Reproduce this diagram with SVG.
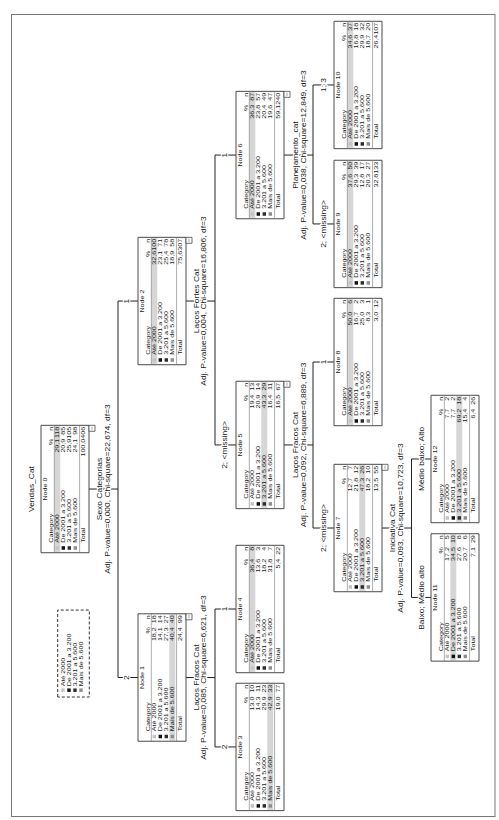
<svg xmlns="http://www.w3.org/2000/svg" width="499" height="820" viewBox="0 0 499 820">
<style>
text{font-family:"Liberation Sans",Arial,sans-serif;fill:#1a1a1a}
.t{font-size:5.5px}
.m{text-anchor:middle}
.e{text-anchor:end}
.box{fill:none;stroke:#4a4a4a;stroke-width:1;vector-effect:non-scaling-stroke}
.sep{stroke:#777;stroke-width:0.6;vector-effect:non-scaling-stroke}
.hl{fill:#d6d6d6}
.k0{fill:#c4c4c4}.k1{fill:#111}.k2{fill:#2e2e2e}.k3{fill:#8e8e8e}
.cn{fill:none;stroke:#222;stroke-width:1;vector-effect:non-scaling-stroke}
.lb{font-size:6.5px;text-anchor:middle;paint-order:stroke;stroke:#fff;stroke-width:2.2px;stroke-linejoin:round}
.cb{fill:#fff;stroke:#4a4a4a;stroke-width:0.8;vector-effect:non-scaling-stroke}
.lg{fill:none;stroke:#333;stroke-width:1;stroke-dasharray:3 2;vector-effect:non-scaling-stroke}
.border{fill:none;stroke:#777;stroke-width:1}
</style>
<defs>
<g id="frame">
<rect class="box" width="98" height="48"/>
<line class="sep" x1="0" y1="13.3" x2="98" y2="13.3"/>
<line class="sep" x1="0" y1="38.6" x2="98" y2="38.6"/>
<rect class="k0" x="2.3" y="14.6" width="2.7" height="3.4"/>
<rect class="k1" x="2.3" y="20.6" width="2.7" height="3.4"/>
<rect class="k2" x="2.3" y="26.6" width="2.7" height="3.4"/>
<rect class="k3" x="2.3" y="32.6" width="2.7" height="3.4"/>
</g>
<g id="cbox">
<rect class="cb" x="93.4" y="48" width="4.6" height="6"/>
<line class="sep" x1="94.3" y1="51" x2="97.1" y2="51"/>
</g>
</defs>
<rect class="border" x="11.5" y="14.5" width="483.5" height="802"/>
<g transform="matrix(0,-1.3,1,0,0,820)">
<text class="lb" x="254.6" y="34">Vendas_Cat</text>
<g id="legend">
<rect class="lg" x="94.6" y="57.7" width="66.9" height="31.6"/>
<rect class="k0" x="98.5" y="61.3" width="2.7" height="3.4"/>
<rect class="k1" x="98.5" y="67.3" width="2.7" height="3.4"/>
<rect class="k2" x="98.5" y="73.3" width="2.7" height="3.4"/>
<rect class="k3" x="98.5" y="79.3" width="2.7" height="3.4"/>
<text class="t" x="102.8" y="65">Até 2000</text>
<text class="t" x="102.8" y="71">De 2001 a 3.200</text>
<text class="t" x="102.8" y="77">3.201 a 5.600</text>
<text class="t" x="102.8" y="83">Mais de 5.600</text>
</g>
<g id="connectors">
<path class="cn" d="M254.6 89V118M109.6 138V118H399.2V138"/>
<path class="cn" d="M109.6 186V215M56.2 236V215H162.3V236"/>
<path class="cn" d="M399.2 186V215M288.5 236V215H511.5V236"/>
<path class="cn" d="M288.5 284V313M224.6 334V313H352.3V334"/>
<path class="cn" d="M511.5 284V313M458.5 334V313H565.4V334"/>
<path class="cn" d="M224.6 382V411.5M171.2 431V411.5H277.7V431"/>
<text class="lb" x="254.6" y="102.2">Sexo Categorias</text>
<text class="lb" x="254.6" y="110.2">Adj. P-value=0,000, Chi-square=22,674, df=3</text>
<text class="lb" x="109.6" y="199.2">Laços Fracos Cat</text>
<text class="lb" x="109.6" y="206.2">Adj. P-value=0,085, Chi-square=6,621, df=3</text>
<text class="lb" x="399.2" y="199.2">Laços Fortes Cat</text>
<text class="lb" x="399.2" y="206.2">Adj. P-value=0,004, Chi-square=16,806, df=3</text>
<text class="lb" x="288.5" y="298.2">Laços Fracos Cat</text>
<text class="lb" x="288.5" y="306.2">Adj. P-value=0,092, Chi-square=6,889, df=3</text>
<text class="lb" x="511.5" y="298.2">Planejamento_cat</text>
<text class="lb" x="511.5" y="306.2">Adj. P-value=0,038, Chi-square=12,849, df=3</text>
<text class="lb" x="224.6" y="395.2">Iniciativa Cat</text>
<text class="lb" x="224.6" y="403.2">Adj. P-value=0,093, Chi-square=10,723, df=3</text>
<text class="lb" x="109.6" y="129">2</text>
<text class="lb" x="399.2" y="129">1</text>
<text class="lb" x="56.2" y="227.5">2</text>
<text class="lb" x="162.3" y="227.5">1</text>
<text class="lb" x="288.5" y="227.5">2; &lt;missing&gt;</text>
<text class="lb" x="511.5" y="227.5">1</text>
<text class="lb" x="224.6" y="326">2; &lt;missing&gt;</text>
<text class="lb" x="352.3" y="326">1</text>
<text class="lb" x="458.5" y="326">2; &lt;missing&gt;</text>
<text class="lb" x="565.4" y="326">1; 3</text>
<text class="lb" x="171.2" y="424">Baixo; Médio alto</text>
<text class="lb" x="277.7" y="424">Médio baixo; Alto</text>
</g>

<g id="node0" transform="translate(205.6,41)">
<rect class="hl" x="0.5" y="13.3" width="97" height="6"/>
<use href="#frame"/><use href="#cbox"/>
<text class="t m" x="49" y="5.6">Node 0</text>
<text class="t" x="7.7" y="12">Category</text><text class="t e" y="12"><tspan x="87.7">%</tspan><tspan x="96.9">n</tspan></text>
<text class="t" x="7.7" y="18.3">Até 2000</text><text class="t e" y="18.3"><tspan x="87.7">29,1</tspan><tspan x="96.9">118</tspan></text>
<text class="t" x="7.7" y="24.3">De 2001 a 3.200</text><text class="t e" y="24.3"><tspan x="87.7">20,9</tspan><tspan x="96.9">85</tspan></text>
<text class="t" x="7.7" y="30.3">3.201 a 5.600</text><text class="t e" y="30.3"><tspan x="87.7">25,9</tspan><tspan x="96.9">105</tspan></text>
<text class="t" x="7.7" y="36.3">Mais de 5.600</text><text class="t e" y="36.3"><tspan x="87.7">24,1</tspan><tspan x="96.9">98</tspan></text>
<text class="t" x="7.7" y="44.2">Total</text><text class="t e" y="44.2"><tspan x="87.7">100,0</tspan><tspan x="96.9">406</tspan></text>
</g>

<g id="node1" transform="translate(60.6,138)">
<rect class="hl" x="0.5" y="31.3" width="97" height="6"/>
<use href="#frame"/><use href="#cbox"/>
<text class="t m" x="49" y="5.6">Node 1</text>
<text class="t" x="7.7" y="12">Category</text><text class="t e" y="12"><tspan x="87.7">%</tspan><tspan x="96.9">n</tspan></text>
<text class="t" x="7.7" y="18.3">Até 2000</text><text class="t e" y="18.3"><tspan x="87.7">18,2</tspan><tspan x="96.9">18</tspan></text>
<text class="t" x="7.7" y="24.3">De 2001 a 3.200</text><text class="t e" y="24.3"><tspan x="87.7">14,1</tspan><tspan x="96.9">14</tspan></text>
<text class="t" x="7.7" y="30.3">3.201 a 5.600</text><text class="t e" y="30.3"><tspan x="87.7">27,3</tspan><tspan x="96.9">27</tspan></text>
<text class="t" x="7.7" y="36.3">Mais de 5.600</text><text class="t e" y="36.3"><tspan x="87.7">40,4</tspan><tspan x="96.9">40</tspan></text>
<text class="t" x="7.7" y="44.2">Total</text><text class="t e" y="44.2"><tspan x="87.7">24,4</tspan><tspan x="96.9">99</tspan></text>
</g>

<g id="node2" transform="translate(350.2,138)">
<rect class="hl" x="0.5" y="13.3" width="97" height="6"/>
<use href="#frame"/><use href="#cbox"/>
<text class="t m" x="49" y="5.6">Node 2</text>
<text class="t" x="7.7" y="12">Category</text><text class="t e" y="12"><tspan x="87.7">%</tspan><tspan x="96.9">n</tspan></text>
<text class="t" x="7.7" y="18.3">Até 2000</text><text class="t e" y="18.3"><tspan x="87.7">32,6</tspan><tspan x="96.9">100</tspan></text>
<text class="t" x="7.7" y="24.3">De 2001 a 3.200</text><text class="t e" y="24.3"><tspan x="87.7">23,1</tspan><tspan x="96.9">71</tspan></text>
<text class="t" x="7.7" y="30.3">3.201 a 5.600</text><text class="t e" y="30.3"><tspan x="87.7">25,4</tspan><tspan x="96.9">78</tspan></text>
<text class="t" x="7.7" y="36.3">Mais de 5.600</text><text class="t e" y="36.3"><tspan x="87.7">18,9</tspan><tspan x="96.9">58</tspan></text>
<text class="t" x="7.7" y="44.2">Total</text><text class="t e" y="44.2"><tspan x="87.7">75,6</tspan><tspan x="96.9">307</tspan></text>
</g>

<g id="node3" transform="translate(7.2,236)">
<rect class="hl" x="0.5" y="31.3" width="97" height="6"/>
<use href="#frame"/>
<text class="t m" x="49" y="5.6">Node 3</text>
<text class="t" x="7.7" y="12">Category</text><text class="t e" y="12"><tspan x="87.7">%</tspan><tspan x="96.9">n</tspan></text>
<text class="t" x="7.7" y="18.3">Até 2000</text><text class="t e" y="18.3"><tspan x="87.7">13,0</tspan><tspan x="96.9">10</tspan></text>
<text class="t" x="7.7" y="24.3">De 2001 a 3.200</text><text class="t e" y="24.3"><tspan x="87.7">14,3</tspan><tspan x="96.9">11</tspan></text>
<text class="t" x="7.7" y="30.3">3.201 a 5.600</text><text class="t e" y="30.3"><tspan x="87.7">29,9</tspan><tspan x="96.9">23</tspan></text>
<text class="t" x="7.7" y="36.3">Mais de 5.600</text><text class="t e" y="36.3"><tspan x="87.7">42,9</tspan><tspan x="96.9">33</tspan></text>
<text class="t" x="7.7" y="44.2">Total</text><text class="t e" y="44.2"><tspan x="87.7">19,0</tspan><tspan x="96.9">77</tspan></text>
</g>

<g id="node4" transform="translate(113.3,236)">
<rect class="hl" x="0.5" y="13.3" width="97" height="6"/>
<use href="#frame"/>
<text class="t m" x="49" y="5.6">Node 4</text>
<text class="t" x="7.7" y="12">Category</text><text class="t e" y="12"><tspan x="87.7">%</tspan><tspan x="96.9">n</tspan></text>
<text class="t" x="7.7" y="18.3">Até 2000</text><text class="t e" y="18.3"><tspan x="87.7">36,4</tspan><tspan x="96.9">8</tspan></text>
<text class="t" x="7.7" y="24.3">De 2001 a 3.200</text><text class="t e" y="24.3"><tspan x="87.7">13,6</tspan><tspan x="96.9">3</tspan></text>
<text class="t" x="7.7" y="30.3">3.201 a 5.600</text><text class="t e" y="30.3"><tspan x="87.7">18,2</tspan><tspan x="96.9">4</tspan></text>
<text class="t" x="7.7" y="36.3">Mais de 5.600</text><text class="t e" y="36.3"><tspan x="87.7">31,8</tspan><tspan x="96.9">7</tspan></text>
<text class="t" x="7.7" y="44.2">Total</text><text class="t e" y="44.2"><tspan x="87.7">5,4</tspan><tspan x="96.9">22</tspan></text>
</g>

<g id="node5" transform="translate(239.5,236)">
<rect class="hl" x="0.5" y="25.3" width="97" height="6"/>
<use href="#frame"/><use href="#cbox"/>
<text class="t m" x="49" y="5.6">Node 5</text>
<text class="t" x="7.7" y="12">Category</text><text class="t e" y="12"><tspan x="87.7">%</tspan><tspan x="96.9">n</tspan></text>
<text class="t" x="7.7" y="18.3">Até 2000</text><text class="t e" y="18.3"><tspan x="87.7">19,4</tspan><tspan x="96.9">13</tspan></text>
<text class="t" x="7.7" y="24.3">De 2001 a 3.200</text><text class="t e" y="24.3"><tspan x="87.7">20,9</tspan><tspan x="96.9">14</tspan></text>
<text class="t" x="7.7" y="30.3">3.201 a 5.600</text><text class="t e" y="30.3"><tspan x="87.7">43,3</tspan><tspan x="96.9">29</tspan></text>
<text class="t" x="7.7" y="36.3">Mais de 5.600</text><text class="t e" y="36.3"><tspan x="87.7">16,4</tspan><tspan x="96.9">11</tspan></text>
<text class="t" x="7.7" y="44.2">Total</text><text class="t e" y="44.2"><tspan x="87.7">16,5</tspan><tspan x="96.9">67</tspan></text>
</g>

<g id="node6" transform="translate(462.5,236)">
<rect class="hl" x="0.5" y="13.3" width="97" height="6"/>
<use href="#frame"/><use href="#cbox"/>
<text class="t m" x="49" y="5.6">Node 6</text>
<text class="t" x="7.7" y="12">Category</text><text class="t e" y="12"><tspan x="87.7">%</tspan><tspan x="96.9">n</tspan></text>
<text class="t" x="7.7" y="18.3">Até 2000</text><text class="t e" y="18.3"><tspan x="87.7">36,3</tspan><tspan x="96.9">87</tspan></text>
<text class="t" x="7.7" y="24.3">De 2001 a 3.200</text><text class="t e" y="24.3"><tspan x="87.7">23,8</tspan><tspan x="96.9">57</tspan></text>
<text class="t" x="7.7" y="30.3">3.201 a 5.600</text><text class="t e" y="30.3"><tspan x="87.7">20,4</tspan><tspan x="96.9">49</tspan></text>
<text class="t" x="7.7" y="36.3">Mais de 5.600</text><text class="t e" y="36.3"><tspan x="87.7">19,6</tspan><tspan x="96.9">47</tspan></text>
<text class="t" x="7.7" y="44.2">Total</text><text class="t e" y="44.2"><tspan x="87.7">59,1</tspan><tspan x="96.9">240</tspan></text>
</g>

<g id="node7" transform="translate(175.6,334)">
<rect class="hl" x="0.5" y="25.3" width="97" height="6"/>
<use href="#frame"/><use href="#cbox"/>
<text class="t m" x="49" y="5.6">Node 7</text>
<text class="t" x="7.7" y="12">Category</text><text class="t e" y="12"><tspan x="87.7">%</tspan><tspan x="96.9">n</tspan></text>
<text class="t" x="7.7" y="18.3">Até 2000</text><text class="t e" y="18.3"><tspan x="87.7">12,7</tspan><tspan x="96.9">7</tspan></text>
<text class="t" x="7.7" y="24.3">De 2001 a 3.200</text><text class="t e" y="24.3"><tspan x="87.7">21,8</tspan><tspan x="96.9">12</tspan></text>
<text class="t" x="7.7" y="30.3">3.201 a 5.600</text><text class="t e" y="30.3"><tspan x="87.7">47,3</tspan><tspan x="96.9">26</tspan></text>
<text class="t" x="7.7" y="36.3">Mais de 5.600</text><text class="t e" y="36.3"><tspan x="87.7">18,2</tspan><tspan x="96.9">10</tspan></text>
<text class="t" x="7.7" y="44.2">Total</text><text class="t e" y="44.2"><tspan x="87.7">13,5</tspan><tspan x="96.9">55</tspan></text>
</g>

<g id="node8" transform="translate(303.3,334)">
<rect class="hl" x="0.5" y="13.3" width="97" height="6"/>
<use href="#frame"/>
<text class="t m" x="49" y="5.6">Node 8</text>
<text class="t" x="7.7" y="12">Category</text><text class="t e" y="12"><tspan x="87.7">%</tspan><tspan x="96.9">n</tspan></text>
<text class="t" x="7.7" y="18.3">Até 2000</text><text class="t e" y="18.3"><tspan x="87.7">50,0</tspan><tspan x="96.9">6</tspan></text>
<text class="t" x="7.7" y="24.3">De 2001 a 3.200</text><text class="t e" y="24.3"><tspan x="87.7">16,7</tspan><tspan x="96.9">2</tspan></text>
<text class="t" x="7.7" y="30.3">3.201 a 5.600</text><text class="t e" y="30.3"><tspan x="87.7">25,0</tspan><tspan x="96.9">3</tspan></text>
<text class="t" x="7.7" y="36.3">Mais de 5.600</text><text class="t e" y="36.3"><tspan x="87.7">8,3</tspan><tspan x="96.9">1</tspan></text>
<text class="t" x="7.7" y="44.2">Total</text><text class="t e" y="44.2"><tspan x="87.7">3,0</tspan><tspan x="96.9">12</tspan></text>
</g>

<g id="node9" transform="translate(409.5,334)">
<rect class="hl" x="0.5" y="13.3" width="97" height="6"/>
<use href="#frame"/>
<text class="t m" x="49" y="5.6">Node 9</text>
<text class="t" x="7.7" y="12">Category</text><text class="t e" y="12"><tspan x="87.7">%</tspan><tspan x="96.9">n</tspan></text>
<text class="t" x="7.7" y="18.3">Até 2000</text><text class="t e" y="18.3"><tspan x="87.7">37,6</tspan><tspan x="96.9">50</tspan></text>
<text class="t" x="7.7" y="24.3">De 2001 a 3.200</text><text class="t e" y="24.3"><tspan x="87.7">29,3</tspan><tspan x="96.9">39</tspan></text>
<text class="t" x="7.7" y="30.3">3.201 a 5.600</text><text class="t e" y="30.3"><tspan x="87.7">12,8</tspan><tspan x="96.9">17</tspan></text>
<text class="t" x="7.7" y="36.3">Mais de 5.600</text><text class="t e" y="36.3"><tspan x="87.7">20,3</tspan><tspan x="96.9">27</tspan></text>
<text class="t" x="7.7" y="44.2">Total</text><text class="t e" y="44.2"><tspan x="87.7">32,8</tspan><tspan x="96.9">133</tspan></text>
</g>

<g id="node10" transform="translate(516.4,334)">
<rect class="hl" x="0.5" y="13.3" width="97" height="6"/>
<use href="#frame"/>
<text class="t m" x="49" y="5.6">Node 10</text>
<text class="t" x="7.7" y="12">Category</text><text class="t e" y="12"><tspan x="87.7">%</tspan><tspan x="96.9">n</tspan></text>
<text class="t" x="7.7" y="18.3">Até 2000</text><text class="t e" y="18.3"><tspan x="87.7">34,6</tspan><tspan x="96.9">37</tspan></text>
<text class="t" x="7.7" y="24.3">De 2001 a 3.200</text><text class="t e" y="24.3"><tspan x="87.7">16,8</tspan><tspan x="96.9">18</tspan></text>
<text class="t" x="7.7" y="30.3">3.201 a 5.600</text><text class="t e" y="30.3"><tspan x="87.7">29,9</tspan><tspan x="96.9">32</tspan></text>
<text class="t" x="7.7" y="36.3">Mais de 5.600</text><text class="t e" y="36.3"><tspan x="87.7">18,7</tspan><tspan x="96.9">20</tspan></text>
<text class="t" x="7.7" y="44.2">Total</text><text class="t e" y="44.2"><tspan x="87.7">26,4</tspan><tspan x="96.9">107</tspan></text>
</g>

<g id="node11" transform="translate(122.2,431)">
<rect class="hl" x="0.5" y="19.3" width="97" height="6"/>
<use href="#frame"/>
<text class="t m" x="49" y="5.6">Node 11</text>
<text class="t" x="7.7" y="12">Category</text><text class="t e" y="12"><tspan x="87.7">%</tspan><tspan x="96.9">n</tspan></text>
<text class="t" x="7.7" y="18.3">Até 2000</text><text class="t e" y="18.3"><tspan x="87.7">17,2</tspan><tspan x="96.9">5</tspan></text>
<text class="t" x="7.7" y="24.3">De 2001 a 3.200</text><text class="t e" y="24.3"><tspan x="87.7">34,5</tspan><tspan x="96.9">10</tspan></text>
<text class="t" x="7.7" y="30.3">3.201 a 5.600</text><text class="t e" y="30.3"><tspan x="87.7">27,6</tspan><tspan x="96.9">8</tspan></text>
<text class="t" x="7.7" y="36.3">Mais de 5.600</text><text class="t e" y="36.3"><tspan x="87.7">20,7</tspan><tspan x="96.9">6</tspan></text>
<text class="t" x="7.7" y="44.2">Total</text><text class="t e" y="44.2"><tspan x="87.7">7,1</tspan><tspan x="96.9">29</tspan></text>
</g>

<g id="node12" transform="translate(228.7,431)">
<rect class="hl" x="0.5" y="25.3" width="97" height="6"/>
<use href="#frame"/>
<text class="t m" x="49" y="5.6">Node 12</text>
<text class="t" x="7.7" y="12">Category</text><text class="t e" y="12"><tspan x="87.7">%</tspan><tspan x="96.9">n</tspan></text>
<text class="t" x="7.7" y="18.3">Até 2000</text><text class="t e" y="18.3"><tspan x="87.7">7,7</tspan><tspan x="96.9">2</tspan></text>
<text class="t" x="7.7" y="24.3">De 2001 a 3.200</text><text class="t e" y="24.3"><tspan x="87.7">7,7</tspan><tspan x="96.9">2</tspan></text>
<text class="t" x="7.7" y="30.3">3.201 a 5.600</text><text class="t e" y="30.3"><tspan x="87.7">69,2</tspan><tspan x="96.9">18</tspan></text>
<text class="t" x="7.7" y="36.3">Mais de 5.600</text><text class="t e" y="36.3"><tspan x="87.7">15,4</tspan><tspan x="96.9">4</tspan></text>
<text class="t" x="7.7" y="44.2">Total</text><text class="t e" y="44.2"><tspan x="87.7">6,4</tspan><tspan x="96.9">26</tspan></text>
</g>
</g>
</svg>
